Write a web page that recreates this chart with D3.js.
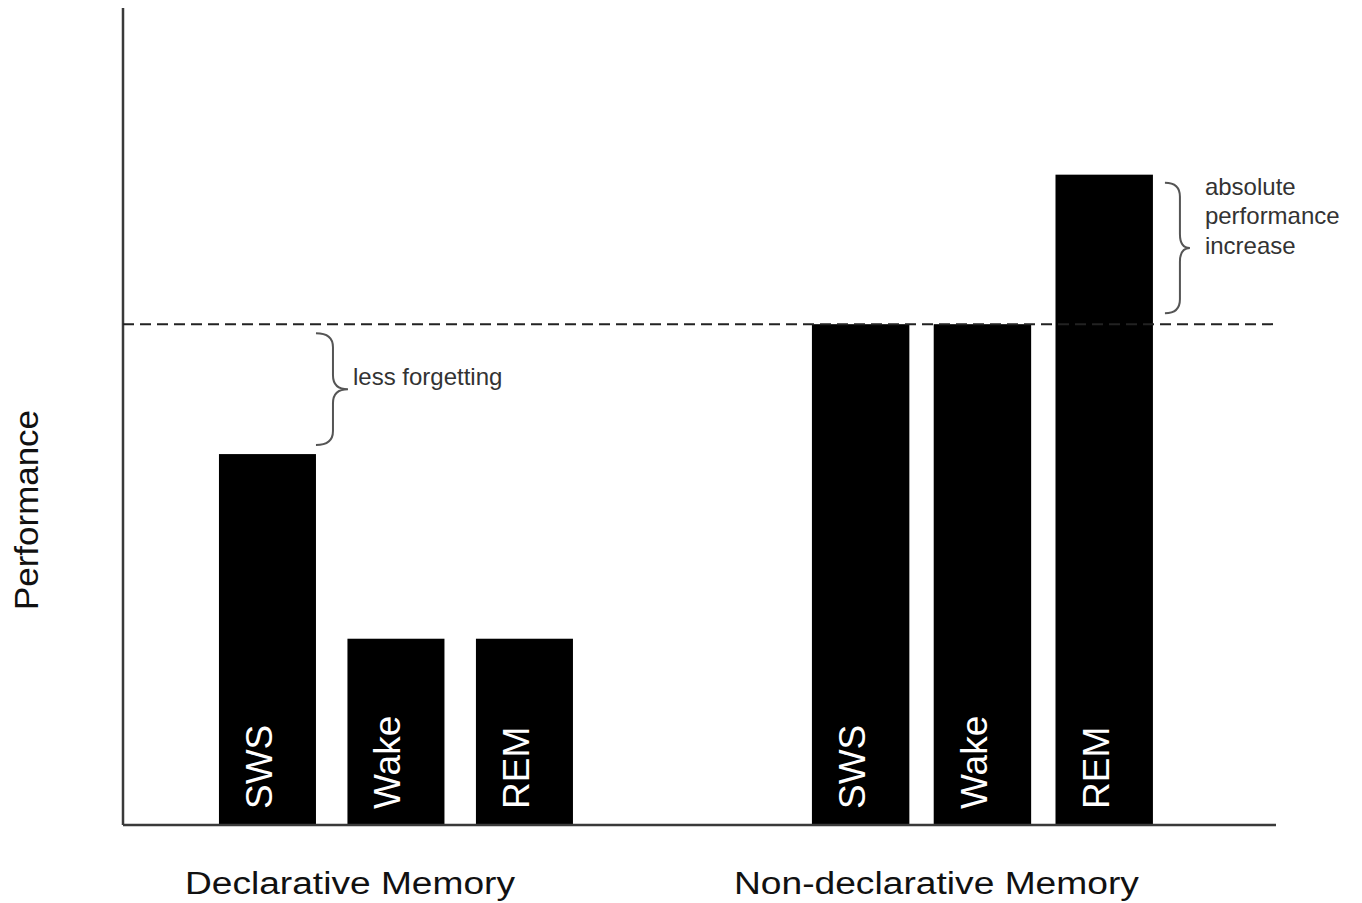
<!DOCTYPE html>
<html>
<head>
<meta charset="utf-8">
<script src="https://d3js.org/d3.v7.min.js"></script>
<style>
  html, body { margin: 0; padding: 0; background: #fff; }
  svg { display: block; }
  text { font-family: "Liberation Sans", Arial, sans-serif; }
</style>
</head>
<body>
<div id="chart"></div>
<script>
// memory type groups and the sleep / wake conditions inside each
var groups = ["Declarative Memory", "Non-declarative Memory"];
var conditions = ["SWS", "Wake", "REM"];

// performance per condition (arbitrary units)
var declarativeValues = [45.4, 22.8, 22.8];
var nonDeclarativeValues = [61.3, 61.3, 79.6];
var baselineValue = 61.3;

var annotations = ["less forgetting", "absolute performance increase"];

var width = 1362, height = 903;
// note: "top" is taken by window.top, so plot edges get their own names
var plotLeft = 123, plotRight = 1276, plotTop = 8, plotBottom = 825;

var svg = d3.select("#chart").append("svg")
    .attr("width", width)
    .attr("height", height);

var bars = [];
groups.forEach(function(g, i) {
  var vals = i === 0 ? declarativeValues : nonDeclarativeValues;
  conditions.forEach(function(c, j) {
    bars.push({group: g, cond: c, value: vals[j]});
  });
});

// scales
var x0 = d3.scaleBand()
    .domain(groups)
    .range([plotLeft, plotRight])
    .paddingInner(0.408)
    .paddingOuter(0.187)
    .align(0.453);

// the two groups are spaced a little differently in the original
var groupSpan = {"Declarative Memory": 354, "Non-declarative Memory": 341};
var groupPad = {"Declarative Memory": 0.245, "Non-declarative Memory": 0.2};
var x1 = {};
groups.forEach(function(g) {
  var c = x0(g) + x0.bandwidth() / 2;
  x1[g] = d3.scaleBand()
      .domain(conditions)
      .range([c - groupSpan[g] / 2, c + groupSpan[g] / 2])
      .paddingInner(groupPad[g])
      .paddingOuter(0);
});

var y = d3.scaleLinear()
    .domain([0, 100])
    .range([plotBottom, plotTop]);

function barX(d) { return x1[d.group](d.cond); }
function barW(d) { return x1[d.group].bandwidth(); }

// bars
svg.selectAll(".bar")
  .data(bars)
  .enter().append("rect")
    .attr("class", "bar")
    .attr("x", barX)
    .attr("y", function(d) { return y(d.value); })
    .attr("width", barW)
    .attr("height", function(d) { return y(0) - y(d.value); })
    .attr("fill", "#000");

// condition labels inside the bars, rotated
svg.selectAll(".blabel")
  .data(bars)
  .enter().append("text")
    .attr("class", "blabel")
    .attr("transform", function(d) {
      var cx = barX(d) + barW(d) / 2 + 4.5;
      return "translate(" + cx + "," + (y(0) - 16) + ") rotate(-90)";
    })
    .attr("fill", "#fff")
    .attr("font-size", 37)
    .text(function(d) { return d.cond; });

// axes lines (no ticks in the original)
svg.append("line")
    .attr("x1", plotLeft).attr("x2", plotLeft)
    .attr("y1", plotTop).attr("y2", plotBottom)
    .attr("stroke", "#3a3a3a").attr("stroke-width", 2.5);
svg.append("line")
    .attr("x1", plotLeft).attr("x2", plotRight)
    .attr("y1", plotBottom).attr("y2", plotBottom)
    .attr("stroke", "#3a3a3a").attr("stroke-width", 2.5);

// dashed baseline
svg.append("line")
    .attr("x1", plotLeft).attr("x2", plotRight)
    .attr("y1", y(baselineValue)).attr("y2", y(baselineValue))
    .attr("stroke", "#222").attr("stroke-width", 2)
    .attr("stroke-dasharray", "11,6");

// group labels
var groupLen = {"Declarative Memory": 330, "Non-declarative Memory": 405};
svg.selectAll(".glabel")
  .data(groups)
  .enter().append("text")
    .attr("class", "glabel")
    .attr("x", function(d) { return x0(d) + x0.bandwidth() / 2 - 46; })
    .attr("y", 894)
    .attr("text-anchor", "middle")
    .attr("font-size", 31)
    .attr("textLength", function(d) { return groupLen[d]; })
    .attr("lengthAdjust", "spacingAndGlyphs")
    .attr("fill", "#111")
    .text(function(d) { return d; });

// y axis title
svg.append("text")
    .attr("transform", "translate(38,510) rotate(-90)")
    .attr("text-anchor", "middle")
    .attr("font-size", 34)
    .attr("textLength", 200)
    .attr("lengthAdjust", "spacingAndGlyphs")
    .attr("fill", "#111")
    .text("Performance");

// curly brace pointing right
function brace(xs, y0, y1, w, spine) {
  var xm = xs + spine, ym = (y0 + y1) / 2, r = 14;
  return "M" + xs + "," + y0 +
    " Q" + xm + "," + y0 + " " + xm + "," + (y0 + r) +
    " L" + xm + "," + (ym - r) +
    " Q" + xm + "," + ym + " " + (xs + w) + "," + ym +
    " Q" + xm + "," + ym + " " + xm + "," + (ym + r) +
    " L" + xm + "," + (y1 - r) +
    " Q" + xm + "," + y1 + " " + xs + "," + y1;
}

var declSws = bars[0], nonRem = bars[5];

// less forgetting
var bx = barX(declSws) + barW(declSws);
var by0 = y(baselineValue) + 9, by1 = y(declSws.value) - 9;
svg.append("path")
    .attr("d", brace(bx, by0, by1, 32, 17))
    .attr("fill", "none").attr("stroke", "#555").attr("stroke-width", 2);
svg.append("text")
    .attr("x", bx + 37)
    .attr("y", (by0 + by1) / 2 - 4)
    .attr("font-size", 24)
    .attr("fill", "#333")
    .text(annotations[0]);

// absolute performance increase
var rx = barX(nonRem) + barW(nonRem) + 12;
var ry0 = y(nonRem.value) + 8, ry1 = y(baselineValue) - 11;
svg.append("path")
    .attr("d", brace(rx, ry0, ry1, 25, 15))
    .attr("fill", "none").attr("stroke", "#555").attr("stroke-width", 2);
var words = ["absolute", "performance", "increase"];
svg.append("text")
    .attr("x", rx + 40)
    .attr("y", ry0 + 12)
    .attr("font-size", 24)
    .attr("fill", "#333")
  .selectAll("tspan")
  .data(words)
  .enter().append("tspan")
    .attr("x", rx + 40)
    .attr("dy", function(d, i) { return i === 0 ? 0 : 29.5; })
    .text(function(d) { return d; });
</script>
</body>
</html>
